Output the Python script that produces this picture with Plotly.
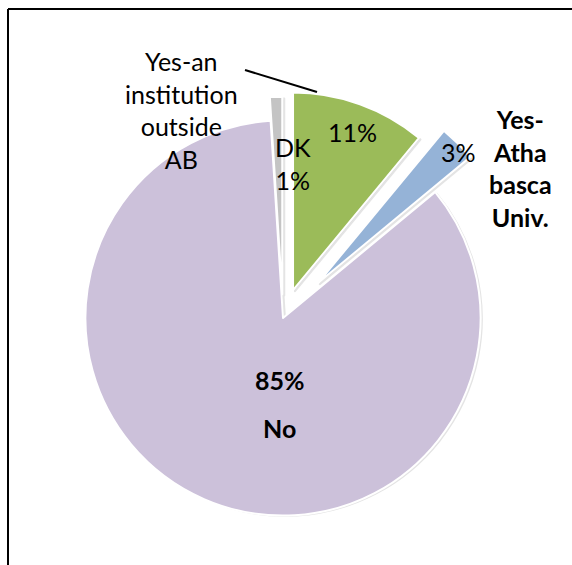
import plotly.graph_objects as go

# Survey answers, in clockwise order starting at 12 o'clock
categories = ["Yes-an institution outside AB", "Yes-Athabasca Univ.", "No", "DK"]
shares = [11, 3, 85, 1]
colors = ["#9BBB59", "#95B3D7", "#CCC1DA", "#C4C4C4"]
pulls = [0.15, 0.25, 0.0, 0.12]

W, H = 572, 565
FONT = "Lato, 'Open Sans', sans-serif"


def px(x, y):
    """Pixel position -> paper coordinates."""
    return x / W, 1 - y / H


def pie(dx, dy, fill, line_color, show_hover):
    # pie box is 500 px wide, 494 px tall, centred at (283, 318) px
    return go.Pie(
        labels=categories,
        values=shares,
        sort=False,
        direction="clockwise",
        rotation=0,
        pull=pulls,
        marker=dict(colors=fill, line=dict(color=line_color, width=2)),
        textinfo="none",
        hoverinfo="label+percent" if show_hover else "skip",
        domain=dict(x=[(33 + dx) / W, (533 + dx) / W],
                    y=[max(0, -dy) / H, (494 - dy) / H]),
    )


fig = go.Figure()
# soft drop shadow under the slices
fig.add_trace(pie(2, 2, ["#D6D6D6"] * len(shares), "#E4E4E4", False))
fig.add_trace(pie(0, 0, colors, "white", True))

pct = {c: f"{v}%" for c, v in zip(categories, shares)}

labels = [
    # (x, y, text, bold)
    (181, 110, "Yes-an<br>institution<br>outside<br>AB", False),
    (293, 163, "DK<br>" + pct["DK"], False),
    (352, 132, pct["Yes-an institution outside AB"], False),
    (458, 152, pct["Yes-Athabasca Univ."], False),
    (520, 168, "Yes-<br>Atha<br>basca<br>Univ.", True),
    (280, 380, pct["No"], True),
    (279, 428, "No", True),
]

annotations = []
for x, y, text, bold in labels:
    ax, ay = px(x, y)
    annotations.append(
        dict(
            x=ax, y=ay, xref="paper", yref="paper",
            text=f"<b>{text}</b>" if bold else text,
            showarrow=False, xanchor="center", yanchor="middle",
            align="center",
            font=dict(family=FONT, size=25, color="#000000"),
        )
    )

# leader line from the outside label to the green slice
lx0, ly0 = px(245, 70)
lx1, ly1 = px(317, 92)
shapes = [
    dict(type="line", xref="paper", yref="paper",
         x0=lx0, y0=ly0, x1=lx1, y1=ly1,
         line=dict(color="black", width=2)),
    # chart frame (top and left edges visible)
    dict(type="line", xref="paper", yref="paper",
         x0=8 / W, y0=1 - 9 / H, x1=1.2, y1=1 - 9 / H,
         line=dict(color="black", width=2)),
    dict(type="line", xref="paper", yref="paper",
         x0=8 / W, y0=1 - 9 / H, x1=8 / W, y1=-0.2,
         line=dict(color="black", width=2)),
]

fig.update_layout(
    width=W, height=H,
    margin=dict(l=0, r=0, t=0, b=0),
    paper_bgcolor="white",
    plot_bgcolor="white",
    showlegend=False,
    annotations=annotations,
    shapes=shapes,
)

fig.write_html("out.html")
